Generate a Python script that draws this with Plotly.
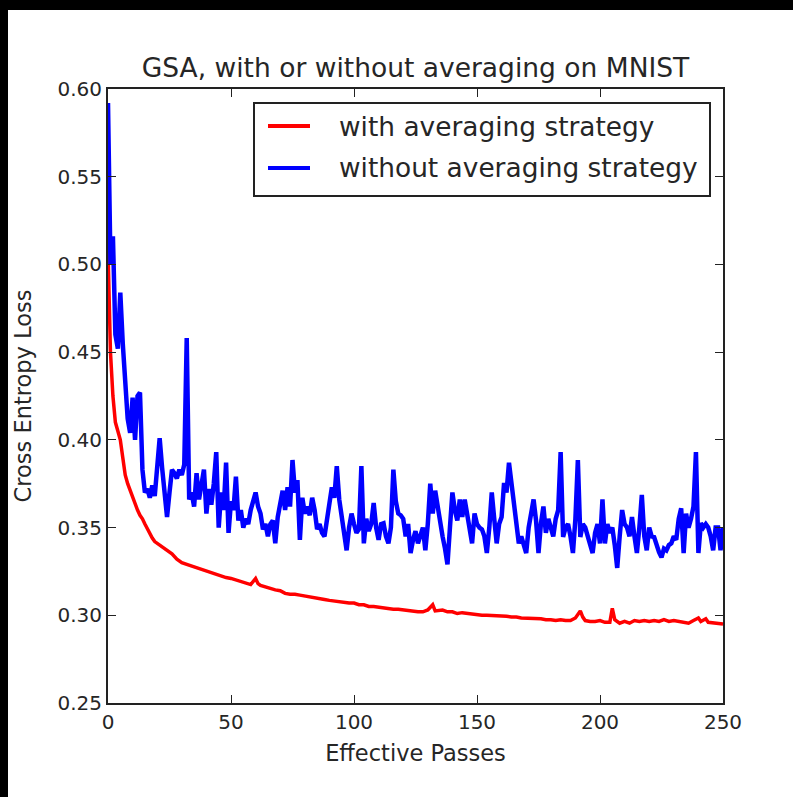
import plotly.graph_objects as go

# ---- data -----------------------------------------------------------------
passes_with = [0, 1, 2, 3, 4, 5, 6, 7, 8, 9, 10, 11, 12, 13, 14, 15, 16, 17, 18, 19,
               20, 22, 24, 26, 28, 30, 32, 34, 36, 38, 40, 42, 44, 46, 48, 50, 52, 54,
               56, 58, 60, 61, 62, 64, 66, 68, 70, 72, 74, 76, 78, 80, 82, 84, 86, 88,
               90, 92, 94, 96, 98, 100, 102, 104, 106, 108, 110, 112, 114, 116, 118,
               120, 122, 124, 126, 128, 130, 132, 133, 136, 138, 140, 142, 144, 146,
               148, 150, 152, 154, 156, 158, 160, 162, 164, 166, 168, 170, 172, 174,
               176, 178, 180, 182, 184, 186, 188, 190, 192, 193, 194, 196, 198, 200,
               202, 204, 205, 206, 208, 210, 212, 214, 216, 218, 220, 222, 224, 226,
               228, 230, 232, 234, 236, 238, 240, 241, 243, 244, 246, 248, 250]
loss_with = [0.508, 0.450, 0.425, 0.410, 0.405, 0.400, 0.390, 0.380, 0.375, 0.371,
             0.368, 0.364, 0.360, 0.357, 0.355, 0.352, 0.349, 0.346, 0.344, 0.342,
             0.341, 0.339, 0.337, 0.335, 0.332, 0.330, 0.329, 0.328, 0.327, 0.326,
             0.325, 0.324, 0.323, 0.322, 0.3215, 0.321, 0.320, 0.319, 0.318, 0.3175,
             0.321, 0.318, 0.317, 0.316, 0.315, 0.3145, 0.314, 0.3125, 0.312, 0.312,
             0.3115, 0.311, 0.310, 0.310, 0.3095, 0.309, 0.3085, 0.308, 0.308, 0.307,
             0.307, 0.307, 0.306, 0.306, 0.305, 0.305, 0.3045, 0.304, 0.304, 0.3035,
             0.3035, 0.303, 0.303, 0.3025, 0.302, 0.302, 0.303, 0.306, 0.3025, 0.303,
             0.302, 0.302, 0.301, 0.3015, 0.301, 0.301, 0.3005, 0.300, 0.300, 0.300,
             0.2995, 0.300, 0.2995, 0.299, 0.299, 0.2985, 0.2985, 0.298, 0.2985, 0.298,
             0.2975, 0.2975, 0.297, 0.2975, 0.297, 0.297, 0.2985, 0.3025, 0.299, 0.297,
             0.2965, 0.2965, 0.297, 0.296, 0.296, 0.304, 0.2975, 0.2955, 0.2965, 0.2955,
             0.297, 0.2965, 0.297, 0.2965, 0.297, 0.2965, 0.2975, 0.2965, 0.297, 0.2965,
             0.296, 0.2955, 0.297, 0.2985, 0.2965, 0.298, 0.296, 0.2955, 0.2955, 0.295]

passes_without = list(range(0, 251))
loss_without = [
    0.592, 0.500, 0.516, 0.460, 0.452, 0.484, 0.455, 0.434, 0.412, 0.404,
    0.424, 0.400, 0.425, 0.427, 0.383, 0.370, 0.372, 0.367, 0.374, 0.368,
    0.386, 0.401, 0.384, 0.366, 0.356, 0.370, 0.383, 0.381, 0.378, 0.383,
    0.380, 0.386, 0.458, 0.366, 0.370, 0.362, 0.381, 0.366, 0.373, 0.383,
    0.358, 0.372, 0.363, 0.375, 0.393, 0.350, 0.370, 0.360, 0.387, 0.347,
    0.365, 0.360, 0.379, 0.354, 0.360, 0.350, 0.355, 0.352, 0.360, 0.365,
    0.370, 0.362, 0.358, 0.349, 0.352, 0.345, 0.352, 0.354, 0.341, 0.356,
    0.363, 0.371, 0.360, 0.373, 0.362, 0.3885, 0.370, 0.377, 0.343, 0.367,
    0.358, 0.362, 0.357, 0.367, 0.360, 0.349, 0.352, 0.347, 0.345, 0.356,
    0.362, 0.373, 0.367, 0.385, 0.366, 0.355, 0.345, 0.337, 0.350, 0.358,
    0.352, 0.347, 0.349, 0.385, 0.341, 0.355, 0.348, 0.352, 0.364, 0.350,
    0.343, 0.352, 0.3525, 0.345, 0.341, 0.350, 0.383, 0.365, 0.358, 0.357,
    0.355, 0.345, 0.352, 0.3355, 0.343, 0.348, 0.341, 0.345, 0.350, 0.337,
    0.352, 0.375, 0.358, 0.371, 0.362, 0.350, 0.345, 0.338, 0.329, 0.350,
    0.370, 0.360, 0.354, 0.366, 0.356, 0.366, 0.358, 0.350, 0.341, 0.358,
    0.352, 0.350, 0.349, 0.345, 0.3355, 0.350, 0.370, 0.355, 0.341, 0.352,
    0.356, 0.3754, 0.370, 0.387, 0.375, 0.360, 0.350, 0.341, 0.345, 0.340,
    0.3355, 0.350, 0.358, 0.366, 0.354, 0.3355, 0.3525, 0.362, 0.347, 0.355,
    0.350, 0.345, 0.355, 0.360, 0.393, 0.3446, 0.350, 0.352, 0.345, 0.3355,
    0.355, 0.3885, 0.3446, 0.352, 0.350, 0.345, 0.341, 0.3355, 0.347, 0.352,
    0.341, 0.366, 0.341, 0.352, 0.347, 0.350, 0.340, 0.327, 0.345, 0.360,
    0.352, 0.350, 0.345, 0.356, 0.345, 0.3355, 0.350, 0.3686, 0.345, 0.337,
    0.350, 0.345, 0.3446, 0.340, 0.336, 0.333, 0.338, 0.337, 0.340, 0.341,
    0.345, 0.343, 0.355, 0.361, 0.3355, 0.358, 0.350, 0.355, 0.362, 0.393,
    0.3355, 0.3525, 0.350, 0.352, 0.350, 0.345, 0.337, 0.350, 0.350, 0.337,
    0.350]

series_names = ["with averaging strategy", "without averaging strategy"]
series_colors = ["#ff0000", "#0000ff"]

x_ticks = [0, 50, 100, 150, 200, 250]
y_ticks = [0.25, 0.30, 0.35, 0.40, 0.45, 0.50, 0.55, 0.60]

FONT = "DejaVu Sans"
TEXT = "#262626"

# ---- figure ---------------------------------------------------------------
fig = go.Figure()
fig.add_trace(go.Scatter(x=passes_with, y=loss_with, mode="lines",
                         name=series_names[0],
                         line=dict(color=series_colors[0], width=3.5)))
fig.add_trace(go.Scatter(x=passes_without, y=loss_without, mode="lines",
                         name=series_names[1],
                         line=dict(color=series_colors[1], width=4.5)))

axis_common = dict(showgrid=False, zeroline=False, showline=True,
                   linecolor="#222222", linewidth=2, mirror="allticks",
                   ticks="inside", ticklen=8, tickwidth=1, tickcolor="#222222",
                   tickfont=dict(family=FONT, size=20, color=TEXT))

fig.update_xaxes(range=[0, 250], tickvals=x_ticks, ticktext=[str(v) for v in x_ticks],
                 title=dict(text="Effective Passes", font=dict(family=FONT, size=22.5, color=TEXT),
                            standoff=12),
                 **axis_common)
fig.update_yaxes(range=[0.25, 0.60], tickvals=y_ticks,
                 ticktext=[f"{v:.2f}" for v in y_ticks],
                 title=dict(text="Cross Entropy Loss", font=dict(family=FONT, size=22.5, color=TEXT),
                            standoff=20),
                 **axis_common)

# legend box drawn in paper coordinates (upper right, inside the axes)
L, R, T, B = 108, 723, 89, 703
W, H = R - L, B - T


def px(xp):
    return (xp - L) / W


def py(yp):
    return (B - yp) / H


shapes = [
    dict(type="rect", xref="paper", yref="paper", x0=px(254), x1=px(710),
         y0=py(196), y1=py(103), line=dict(color="#222222", width=2),
         fillcolor="white", layer="above"),
]
annotations = []
for i, (name, color) in enumerate(zip(series_names, series_colors)):
    yl = 126 + 42 * i
    shapes.append(dict(type="line", xref="paper", yref="paper", x0=px(268), x1=px(310),
                       y0=py(yl), y1=py(yl), line=dict(color=color, width=4), layer="above"))
    annotations.append(dict(xref="paper", yref="paper", x=px(337), y=py(yl),
                            xanchor="left", yanchor="middle", showarrow=False,
                            text=name, font=dict(family=FONT, size=26.4, color=TEXT)))

# dark frame strips along the top and left edges of the canvas
shapes.append(dict(type="rect", xref="paper", yref="paper", x0=px(0), x1=px(8),
                   y0=py(797), y1=py(0), fillcolor="black", line=dict(width=0), layer="above"))
shapes.append(dict(type="rect", xref="paper", yref="paper", x0=px(0), x1=px(793),
                   y0=py(10), y1=py(0), fillcolor="black", line=dict(width=0), layer="above"))

fig.update_layout(
    width=793, height=797,
    margin=dict(l=L, r=793 - R, t=T, b=797 - B),
    paper_bgcolor="white", plot_bgcolor="white",
    showlegend=False,
    title=dict(text="GSA, with or without averaging on MNIST", x=0.5, xanchor="center",
               xref="paper", y=1 - 68 / 797, yanchor="middle",
               font=dict(family=FONT, size=26.5, color=TEXT)),
    shapes=shapes, annotations=annotations,
)

fig.write_html("out.html")
